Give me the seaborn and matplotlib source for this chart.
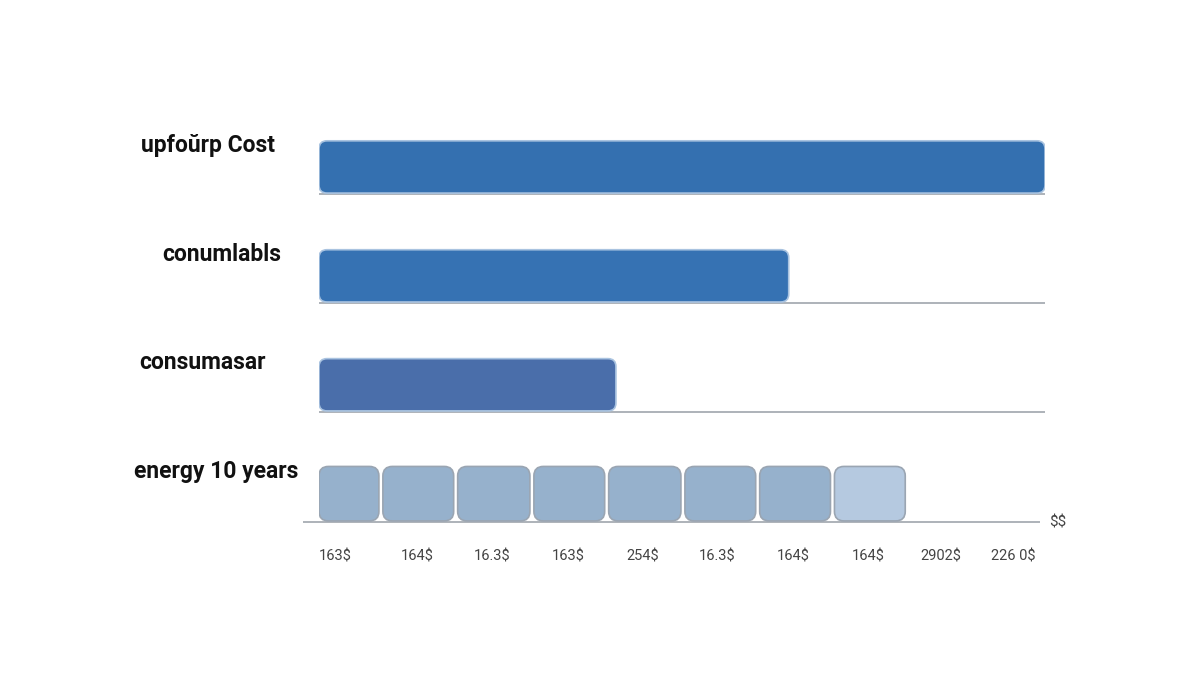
import matplotlib
matplotlib.use("Agg")
import matplotlib.pyplot as plt
from matplotlib.patches import FancyBboxPatch
import pandas as pd
import seaborn as sns

# cost categories (single bars)
categories = ["upfoŭrp Cost", "conumlabls", "consumasar"]
values = [100.0, 64.7, 40.9]
bar_colors = ["#3470b0", "#3672b3", "#4a6eaa"]

# energy over 10 years, drawn as stacked blocks
energy_label = "energy 10 years"
energy_blocks = [8.8, 10.3, 10.5, 10.3, 10.5, 10.3, 10.3, 10.3]
energy_colors = ["#96b1cc"] * 7 + ["#b5c9e0"]
block_gap = 0.55

# x tick labels
tick_pos = [2.3, 13.5, 23.8, 34.3, 44.6, 54.8, 65.3, 75.6, 85.7, 95.6]
tick_labels = ["163$", "164$", "16.3$", "163$", "254$", "16.3$", "164$", "164$", "2902$", "226 0$"]

sns.set_style("white")
plt.rcParams["font.family"] = ["Roboto", "DejaVu Sans"]
plt.rcParams["text.parse_math"] = False

fig = plt.figure(figsize=(12, 6.75), dpi=100)
ax = fig.add_axes([319 / 1200, 1 - 522 / 675, 726 / 1200, (522 - 101.6) / 675])

df = pd.DataFrame({"category": categories, "value": values})
sns.barplot(data=df, x="value", y="category", hue="category", palette=bar_colors,
            orient="h", width=0.48, saturation=1, legend=False, ax=ax)

left = 0.0
for w, c in zip(energy_blocks, energy_colors):
    ax.barh(3, w - block_gap, left=left, height=0.5, color=c)
    left += w

ax.set_xlim(0, 100)
ax.set_ylim(3.26, -0.6)

# rounded corners: swap each rectangle for a rounded box of the same size
fig.canvas.draw()
px_x = ax.transData.transform((1, 0))[0] - ax.transData.transform((0, 0))[0]
px_y = ax.transData.transform((0, 0))[1] - ax.transData.transform((0, 1))[1]
aspect = px_x / px_y
for p in list(ax.patches):
    x, y = p.get_x(), p.get_y()
    w, h = p.get_width(), p.get_height()
    fc = p.get_facecolor()
    p.remove()
    energy = y > 2.5
    ec = "#9aa5b2" if energy else "#a9c3e0"
    r = 1.3 if energy else 1.1
    box = FancyBboxPatch((x, y), w, h, boxstyle=f"round,pad=0,rounding_size={r}",
                         mutation_aspect=aspect, facecolor=fc, edgecolor=ec,
                         linewidth=1.2, zorder=2)
    ax.add_patch(box)

# baselines under each row
for row in range(3):
    ax.hlines(row + 0.248, 0, 100, color="#a0a6ad", linewidth=1.2, clip_on=False, zorder=1)
ax.hlines(3.26, -2.2, 99.3, color="#a0a6ad", linewidth=1.2, clip_on=False, zorder=1)
ax.text(100.6, 3.26, "$$", ha="left", va="center", fontsize=11, color="#444444")

# row labels
label_x = [-15.3, -13.4, -16.0, -14.2]
for row, (lab, lx) in enumerate(zip(categories + [energy_label], label_x)):
    ax.text(lx, row - 0.2, lab, ha="center", va="center", fontsize=16.5,
            fontweight="bold", color="#111111", clip_on=False)

ax.set_xticks(tick_pos)
ax.set_xticklabels(tick_labels, fontsize=10.5, color="#444444")
ax.tick_params(axis="x", length=0, pad=20)
ax.set_yticks([])
ax.set_xlabel("")
ax.set_ylabel("")
for s in ax.spines.values():
    s.set_visible(False)

fig.savefig("out.png", dpi=100)
